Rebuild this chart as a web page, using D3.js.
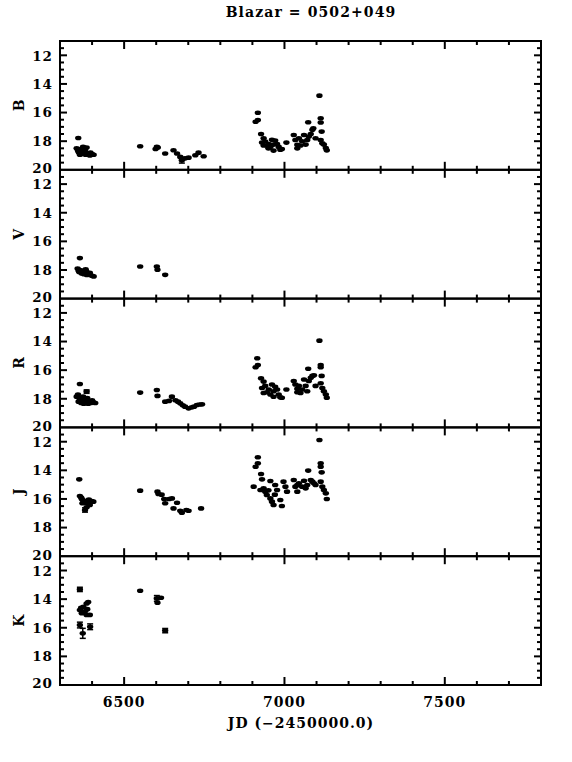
<!DOCTYPE html>
<html><head><meta charset="utf-8">
<script src="https://cdn.jsdelivr.net/npm/d3@7"></script>
<style>body{margin:0;background:#fff}svg{display:block}text{font-family:"DejaVu Serif",serif;font-weight:bold;fill:#000}</style>
</head><body><div id="c"></div>
<script>
const title = "Blazar = 0502+049";
const xLabel = "JD (\u22122450000.0)";
const bands = ["B","V","R","J","K"];
const xTickLabels = [6500, 7000, 7500];
const yTickLabels = [12, 14, 16, 18, 20];

// [JD, mag, err]
const dataB = [
 [6357,17.78],[6352,18.5],[6356,18.65],[6360,18.8],[6364,18.55],[6368,18.9],[6372,18.4],[6376,18.75],[6380,18.95],[6385,18.85],[6390,18.95],[6395,18.8],[6400,18.9],[6405,18.95],[6362,18.95],[6370,18.65],[6378,18.6],[6383,18.45],[6358,18.75],[6393,19.0],
 [6550,18.35],[6602,18.4],[6598,18.55],[6605,18.45],[6628,18.86],[6654,18.63],[6665,18.86],[6675,19.1],[6680,19.33,0.2],[6690,19.2],[6701,19.15],[6722,18.98],[6732,18.8],[6748,19.05],
 [6917,16.01],[6917,16.52],[6910,16.64],[6927,17.5],[6935,17.8],[6930,18.1],[6940,18.02],[6951,18.2],[6961,17.9],[6966,18.24],[6956,18.4],[6966,18.66],[6977,18.2],[6982,18.4],[6992,18.55],[6971,17.96],[6945,18.3],[6935,18.3],[6950,18.5],[6987,18.6],[7006,18.1],
 [7029,17.57],[7034,17.92],[7040,18.25],[7045,17.8],[7055,18.0],[7061,17.57],[7066,18.24],[7071,17.92],[7076,17.68],[7082,17.5],[7087,17.2],[7090,17.1],[7074,16.68],[7097,17.8],[7040,18.5],[7050,18.3],
 [7109,14.82],[7113,16.4],[7113,16.7],[7116,17.33],[7113,17.92],[7118,18.15],[7123,18.24],[7129,18.48],[7132,18.64]
];
const dataV = [
 [6362,17.17],[6355,17.9],[6358,18.05],[6362,18.0],[6366,18.1],[6370,18.05],[6374,18.15],[6378,18.2],[6382,18.1],[6386,18.25],[6390,18.3],[6395,18.35],[6400,18.4],[6405,18.45],[6360,18.15],[6368,18.25],[6375,18.3],[6384,18.35],[6393,18.2],[6380,17.95],
 [6550,17.76],[6602,17.76],[6604,17.98],[6628,18.34]
];
const dataR = [
 [6362,16.97],[6383,17.5,0.12],[6352,17.85],[6356,17.7],[6360,17.95],[6364,18.1],[6368,18.0],[6372,17.85],[6376,18.2],[6380,18.3],[6384,18.15],[6388,18.35],[6392,18.2],[6396,18.3],[6400,18.1],[6405,18.25],[6410,18.3],[6358,18.2],[6366,18.3],[6374,18.35],[6385,17.95],
 [6550,17.57],[6602,17.39],[6604,17.8],[6628,18.2],[6640,18.15],[6649,17.85],[6660,18.1],[6668,18.2],[6675,18.32],[6683,18.45],[6690,18.55],[6701,18.67],[6711,18.6],[6718,18.55],[6727,18.44],[6735,18.4],[6743,18.39],
 [6915,15.17],[6917,15.64],[6910,15.8],[6927,16.57],[6935,16.8],[6930,17.25],[6940,17.1],[6951,17.35],[6961,17.0],[6966,17.47],[6956,17.7],[6966,17.86],[6977,17.35],[6982,17.7],[6992,17.93],[6971,17.16],[6945,17.54],[6935,17.6],[6987,17.9],[7006,17.35],
 [7029,16.76],[7034,17.0],[7040,17.54],[7045,17.1],[7055,17.35],[7061,16.65],[7066,17.1],[7071,17.47],[7076,16.76],[7082,16.53],[7087,16.4],[7092,16.36],[7074,15.9],[7097,17.1],[7040,17.3],[7050,17.6],
 [7109,13.94],[7113,15.64],[7113,15.8],[7116,16.4],[7113,16.92],[7118,17.25],[7123,17.47],[7129,17.7],[7132,17.93]
];
const dataJ = [
 [6360,14.63],[6362,15.79],[6366,15.9],[6368,16.0],[6372,16.1],[6378,16.19],[6383,16.3],[6388,16.26],[6393,16.42],[6399,16.15],[6404,16.19],[6383,16.58],[6378,16.77,0.15],[6370,16.3],[6390,16.05],
 [6550,15.42],[6604,15.49],[6607,15.65],[6617,15.7],[6625,16.0],[6628,16.3],[6640,16.0],[6649,15.96],[6654,16.66],[6665,16.26],[6675,16.82],[6680,16.96],[6694,16.77],[6701,16.82],[6740,16.66],
 [6917,13.09],[6917,13.51],[6910,13.75],[6927,14.26],[6930,14.63],[6904,15.14],[6925,15.37],[6935,15.26],[6940,15.49],[6945,15.72],[6956,15.96],[6961,16.19],[6966,16.42],[6956,14.75],[6977,15.37],[6971,15.03],[6992,16.49],[6997,14.79],[7003,15.14],[7008,15.49],[6987,16.07],[6950,15.4],[6970,15.7],
 [7029,14.68],[7034,15.14],[7040,15.49],[7045,14.91],[7055,15.14],[7061,14.73],[7066,15.26],[7071,15.03],[7074,14.02],[7082,14.68],[7087,14.79],[7092,14.91],[7097,15.03],[7040,15.03],
 [7109,11.88],[7113,13.51],[7113,13.75],[7116,14.14],[7113,14.79],[7118,15.14],[7123,15.37],[7129,15.61],[7132,16.0]
];
const dataK = [
 [6362,13.32,0.15],[6362,14.76],[6373,14.53],[6383,14.3],[6388,14.2],[6368,14.99],[6383,15.1],[6393,15.1],[6366,14.6],[6378,14.85],[6370,14.9],[6385,14.7],
 [6362,15.81,0.2],[6371,16.39,0.35],[6394,15.93,0.2],
 [6550,13.41],[6602,13.95,0.2],[6604,14.25],[6615,13.9],[6628,16.2,0.15]
];
const allData = [dataB, dataV, dataR, dataJ, dataK];

const W = 572, H = 762;
const left = 60, right = 541, top0 = 41, bottom = 685;
const ph = (bottom - top0) / bands.length;

const svg = d3.select("#c").append("svg").attr("width", W).attr("height", H);
const x = d3.scaleLinear().domain([6300, 7800]).range([left, right]);

svg.append("text").attr("x", 311).attr("y", 17).attr("text-anchor","middle")
  .style("font-size","14px").style("letter-spacing","1.1px").text(title);

const xMajor = d3.range(6500, 7800, 500), xMinor = d3.range(6400, 7800, 100);
const yMinor = d3.range(11.5, 20, 0.5);

bands.forEach((b, i) => {
  const pt = top0 + i * ph, pb = pt + ph;
  const y = d3.scaleLinear().domain([11, 20]).range([pt, pb]);
  const g = svg.append("g");
  const tk = g.append("g").attr("stroke","#000").attr("stroke-width",2);
  xMinor.forEach(v => {
    const L = xMajor.includes(v) ? 8 : 4;
    tk.append("line").attr("x1",x(v)).attr("x2",x(v)).attr("y1",pt).attr("y2",pt+L);
    tk.append("line").attr("x1",x(v)).attr("x2",x(v)).attr("y1",pb).attr("y2",pb-L);
  });
  yMinor.forEach(v => {
    const L = (Math.abs(v % 2) < 1e-6) ? 7 : 4;
    tk.append("line").attr("x1",left).attr("x2",left+L).attr("y1",y(v)).attr("y2",y(v));
    tk.append("line").attr("x1",right).attr("x2",right-L).attr("y1",y(v)).attr("y2",y(v));
  });
  g.append("rect").attr("x",left).attr("y",pt).attr("width",right-left).attr("height",ph)
    .attr("fill","none").attr("stroke","#000").attr("stroke-width",2);
  yTickLabels.forEach(v => {
    const nudge = v === 20 ? -1.5 : (v === 12 ? 0.5 : 0);
    g.append("text").attr("x",53).attr("y",y(v) + nudge).attr("dy","0.36em").attr("text-anchor","end")
      .style("font-size","13.5px").style("letter-spacing","1px").text(v);
  });
  g.append("text").attr("transform",`translate(24,${(pt+pb)/2}) rotate(-90)`)
    .attr("text-anchor","middle").style("font-size","14px").text(b);
  const d = allData[i];
  const eb = g.append("g").attr("stroke","#000").attr("stroke-width",1.5);
  d.filter(p => p[2]).forEach(p => {
    const cx = x(p[0]), y1 = y(p[1]-p[2]), y2 = y(p[1]+p[2]);
    eb.append("line").attr("x1",cx).attr("x2",cx).attr("y1",y1).attr("y2",y2);
    eb.append("line").attr("x1",cx-3).attr("x2",cx+3).attr("y1",y1).attr("y2",y1);
    eb.append("line").attr("x1",cx-3).attr("x2",cx+3).attr("y1",y2).attr("y2",y2);
  });
  g.append("g").selectAll("ellipse").data(d).join("ellipse")
    .attr("cx", p => x(p[0])).attr("cy", p => y(p[1])).attr("rx",3.2).attr("ry",2.3).attr("fill","#000");
  if (i === bands.length - 1) {
    xTickLabels.forEach(v => {
      svg.append("text").attr("x",x(v)).attr("y",707).attr("text-anchor","middle")
        .style("font-size","14px").style("letter-spacing","1px").text(v);
    });
  }
});
svg.append("text").attr("x",301).attr("y",728).attr("text-anchor","middle")
  .style("font-size","14px").style("letter-spacing","1px").text(xLabel);
</script></body></html>
